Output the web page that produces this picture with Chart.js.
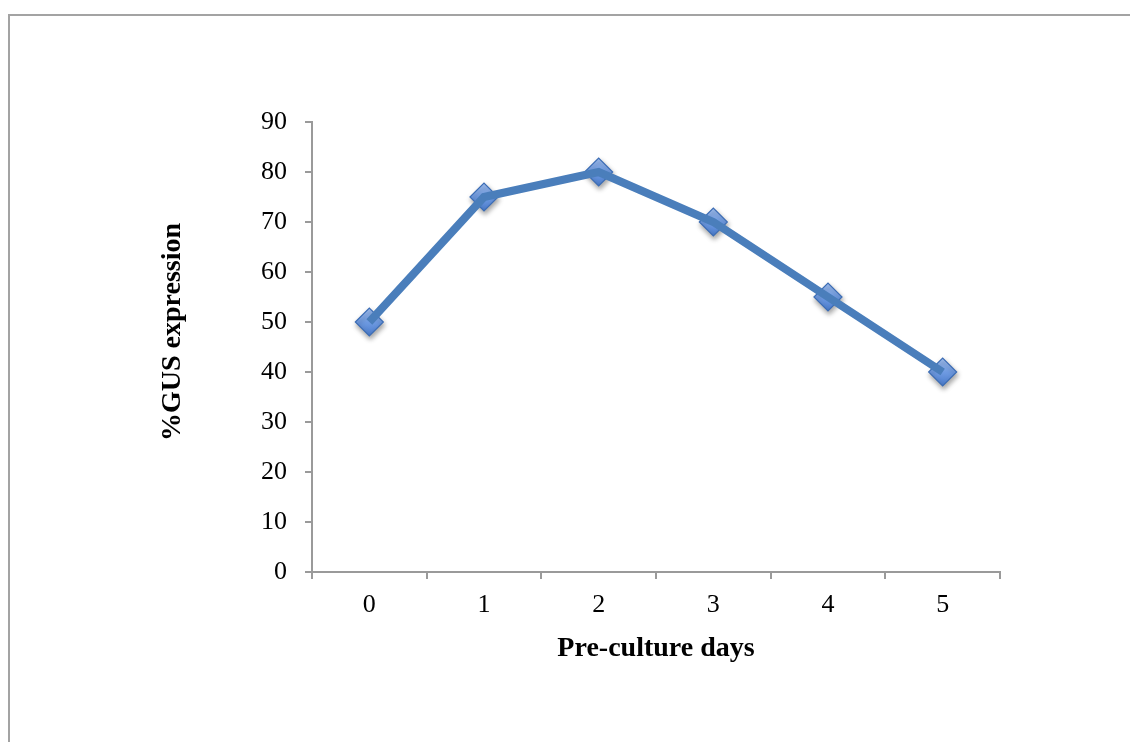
<!DOCTYPE html>
<html>
<head>
<meta charset="utf-8">
<script src="https://cdn.jsdelivr.net/npm/chart.js@4/dist/chart.umd.min.js"></script>
<style>
  html, body { margin: 0; padding: 0; background: #ffffff; }
  #wrap { position: relative; width: 1130px; height: 742px; }
</style>
</head>
<body>
<div id="wrap"><canvas id="chart" width="1130" height="742"></canvas></div>
<script>
// Pre-culture days and the GUS expression measured for each
const days = ['0', '1', '2', '3', '4', '5'];
const gusExpression = [50, 75, 80, 70, 55, 40];
const yTitle = '%GUS expression';
const xTitle = 'Pre-culture days';

const SERIF = "'Liberation Serif', 'Times New Roman', serif";
const AXIS_GREY = '#9a9a9a';

// Outer frame around the figure
const framePlugin = {
  id: 'frame',
  beforeDraw(chart) {
    const c = chart.ctx;
    c.save();
    c.fillStyle = '#ffffff';
    c.fillRect(0, 0, chart.width, chart.height);
    c.strokeStyle = '#a3a3a3';
    c.lineWidth = 2;
    c.strokeRect(9, 15, chart.width + 50, chart.height + 50);
    c.restore();
  }
};

// Vertical axis title, drawn beside the value axis
const yTitlePlugin = {
  id: 'yTitle',
  afterDraw(chart) {
    const area = chart.chartArea;
    const c = chart.ctx;
    c.save();
    c.translate(area.left - 139, (area.top + area.bottom) / 2 - 15);
    c.rotate(-Math.PI / 2);
    c.font = 'bold 28px ' + SERIF;
    c.fillStyle = '#000000';
    c.textAlign = 'center';
    c.textBaseline = 'middle';
    c.fillText(yTitle, 0, 0);
    c.restore();
  }
};

// Soft drop shadow under the diamond markers only
const markerShadowPlugin = {
  id: 'markerShadow',
  beforeDatasetDraw(chart, args) {
    if (args.index !== 1) return;
    const c = chart.ctx;
    c.save();
    c.shadowColor = 'rgba(0,0,0,0.35)';
    c.shadowBlur = 5;
    c.shadowOffsetX = 1;
    c.shadowOffsetY = 3;
  },
  afterDatasetDraw(chart, args) {
    if (args.index !== 1) return;
    chart.ctx.restore();
  }
};

// Per-marker vertical gradient, centred on the marker's own pixel position
function markerFill(context) {
  const chart = context.chart;
  const yScale = chart.scales && chart.scales.y;
  if (!yScale || !context.parsed) return '#6b98de';
  const y = yScale.getPixelForValue(context.parsed.y);
  if (!Number.isFinite(y)) return '#6b98de';
  const g = chart.ctx.createLinearGradient(0, y - 14, 0, y + 14);
  g.addColorStop(0, '#a2c1f2');
  g.addColorStop(0.5, '#6f9be2');
  g.addColorStop(1, '#4a7bcb');
  return g;
}

new Chart(document.getElementById('chart'), {
  type: 'line',
  data: {
    labels: days,
    datasets: [
      {
        data: gusExpression,
        borderColor: '#4a7ebb',
        borderWidth: 8,
        pointRadius: 0,
        pointHoverRadius: 0,
        tension: 0,
        fill: false
      },
      {
        data: gusExpression,
        showLine: false,
        pointStyle: 'rectRot',
        pointRadius: 14,
        pointHoverRadius: 14,
        pointBorderWidth: 1.2,
        pointBorderColor: '#3c6db5',
        pointBackgroundColor: markerFill
      }
    ]
  },
  options: {
    responsive: false,
    animation: false,
    events: [],
    layout: { padding: { left: 20, right: 130, top: 122, bottom: 76 } },
    plugins: {
      legend: { display: false },
      tooltip: { enabled: false }
    },
    scales: {
      x: {
        type: 'category',
        offset: true,
        grid: {
          offset: true,
          drawOnChartArea: false,
          drawTicks: true,
          tickLength: 7,
          color: AXIS_GREY,
          lineWidth: 2
        },
        border: { display: true, color: AXIS_GREY, width: 2 },
        ticks: {
          color: '#000000',
          font: { family: SERIF, size: 26 },
          padding: 11,
          maxRotation: 0,
          autoSkip: false
        },
        title: {
          display: true,
          text: xTitle,
          color: '#000000',
          font: { family: SERIF, size: 28, weight: 'bold' },
          padding: 0
        },
        afterFit(scale) { scale.height = 94; }
      },
      y: {
        min: 0,
        max: 90,
        grid: {
          drawOnChartArea: false,
          drawTicks: true,
          tickLength: 7,
          color: AXIS_GREY,
          lineWidth: 2
        },
        border: { display: true, color: AXIS_GREY, width: 2 },
        ticks: {
          stepSize: 10,
          color: '#000000',
          font: { family: SERIF, size: 26 },
          padding: 18
        },
        afterFit(scale) { scale.width = 292; }
      }
    }
  },
  plugins: [framePlugin, yTitlePlugin, markerShadowPlugin]
});
</script>
</body>
</html>
